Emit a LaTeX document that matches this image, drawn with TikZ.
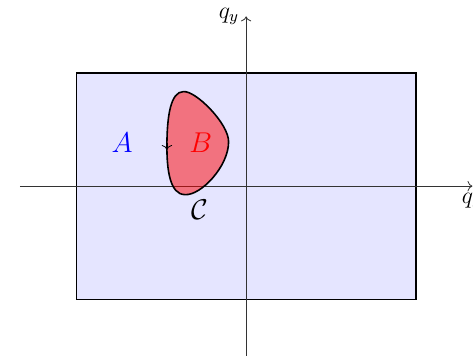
\documentclass[tikz,border=0pt]{standalone}
\usepackage{amsmath}
\usepackage{xcolor}
\usepackage{tikz}
\usetikzlibrary{arrows.meta, positioning}

\begin{document}
\begin{tikzpicture}[
    axisline/.style={->, draw=black!80},
    domainbox/.style={draw=black, thick, fill=blue!10},
    regionB/.style={draw=black, thick, fill=red, fill opacity=0.5},
    lbl/.style={font=\Large}
]
\useasboundingbox (-4.35,-3.0) rectangle (4.01,3.29);

\draw[domainbox] (-3,-2) rectangle (3,2);

\draw[axisline] (-4,0) -- (4,0) node[below] (qx) {\large$q_x$};
\draw[axisline] (0,-3) -- (0,3) node[left] (qy) {\large$q_y$};

% region B and its boundary C
\draw[regionB] (-1.11,1.67)
    .. controls (-0.90,1.70) and (-0.30,1.10) .. (-0.31,0.78)
    .. controls (-0.31,0.35) and (-0.80,-0.17) .. (-1.08,-0.15)
    .. controls (-1.35,-0.15) and (-1.40,0.30) .. (-1.40,0.70)
    .. controls (-1.40,1.25) and (-1.33,1.67) .. cycle;
\draw[->] (-1.40,0.76) -- (-1.40,0.64);

\node[lbl, blue] (A) at (-2.19,0.76) {$A$};
\node[lbl, red]  (B) at (-0.80,0.76) {$B$};
\node[lbl]       (C) at (-0.81,-0.42) {$\mathcal{C}$};

\end{tikzpicture}
\end{document}
